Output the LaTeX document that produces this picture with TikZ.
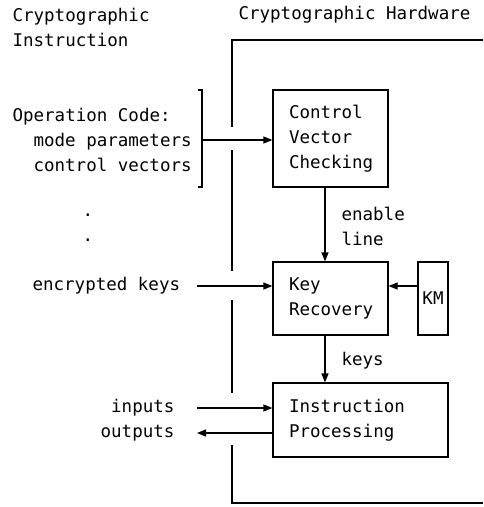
\documentclass[tikz,border=0pt]{standalone}
\usepackage{fontspec}
\setmonofont{DejaVu Sans Mono}
\usepackage{tikz}
\usetikzlibrary{arrows.meta, positioning, calc}
\tikzset{txt/.style={inner sep=0pt, font=\ttfamily\fontsize{17.5}{25}\selectfont}}
\tikzset{blk/.style={draw, line width=1.2pt, align=left, inner xsep=16pt, inner ysep=0pt, font=\ttfamily\fontsize{17.5}{25}\selectfont}}

\begin{document}
\begin{tikzpicture}[x=1pt, y=-1pt, line width=1.2pt, >={Triangle[length=9pt, width=7pt]}]
    \useasboundingbox[fill=white] (0, 0) rectangle (483, 507);

    % headings
    \node[txt, anchor=west, align=left] (instr) at (12, 27.5) {Cryptographic\\Instruction};
    \node[txt, anchor=west] (hw) at (238, 15) {Cryptographic Hardware};

    % hardware boundary, broken where the lines come in
    \draw (483, 40) -- (232, 40) -- (232, 127);
    \draw (232, 150) -- (232, 271);
    \draw (232, 300) -- (232, 393);
    \draw (232, 445) -- (232, 503) -- (483, 503);

    % boxes
    \node[blk, minimum width=115pt, minimum height=97pt, text width=83pt] (cvc) at (330.5, 138.5) {Control\\Vector\\Checking};
    \node[blk, minimum width=115pt, minimum height=73pt, text width=83pt] (kr) at (330.5, 298.5) {Key\\Recovery};
    \node[blk, minimum width=30pt, minimum height=73pt, inner xsep=0pt, align=center] (km) at (433, 298.5) {KM};
    \node[blk, minimum width=175pt, minimum height=74pt, text width=143pt] (ip) at (360.5, 420) {Instruction\\Processing};

    % instruction fields
    \node[txt, anchor=west, align=left] (opc) at (12, 139.5) {Operation Code:\\\hspace*{1.2em}mode parameters\\\hspace*{1.2em}control vectors};
    \draw (198, 90) -- (202, 90) -- (202, 187) -- (198, 187);
    \coordinate (brk) at (202, 140);
    \node[txt, align=center] (dots) at (88, 228) {.\\.};
    \node[txt, anchor=west] (enc) at (32, 286) {encrypted keys};
    \node[txt, anchor=east] (inp) at (175, 408) {inputs};
    \node[txt, anchor=east] (outp) at (175, 433) {outputs};

    \coordinate (encin) at (197, 286);
    \coordinate (inin) at (197, 408);
    \coordinate (outend) at (197, 433);

    \draw[->] (brk) -- (brk -| cvc.west);
    \draw[->] (encin) -- (encin -| kr.west);
    \draw[->] (km.west |- encin) -- (kr.east |- encin);
    \draw[->] (inin) -- (inin -| ip.west);
    \draw[->] (outend -| ip.west) -- (outend);

    % internal lines
    \draw[->] ([xshift=-5.5pt]cvc.south) -- ([xshift=-5.5pt]cvc.south |- kr.north);
    \draw[->] ([xshift=-5.5pt]kr.south) -- ([xshift=-5.5pt]kr.south |- ip.north);
    \node[txt, anchor=west, align=left] (enl) at (341, 226) {enable\\line};
    \node[txt, anchor=west] (keys) at (341, 361) {keys};
\end{tikzpicture}
\end{document}
